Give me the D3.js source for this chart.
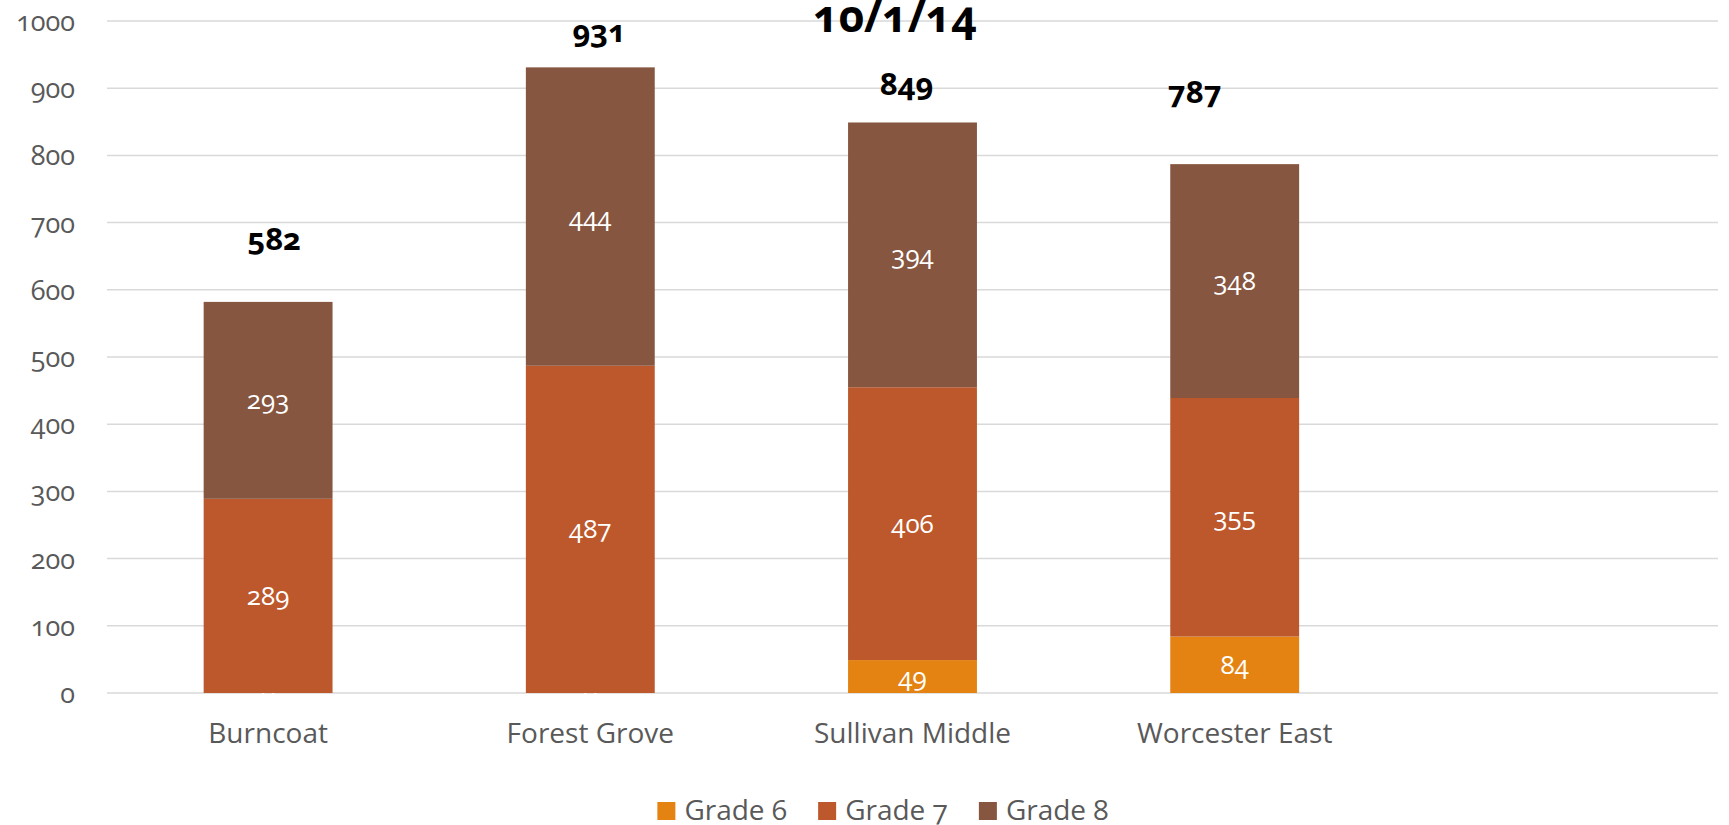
<!DOCTYPE html>
<html>
<head>
<meta charset="utf-8">
<script src="https://cdn.jsdelivr.net/npm/d3@7"></script>
<style>
  body { margin: 0; background: #fff; }
  svg text { font-family: "Open Sans", "Noto Sans", sans-serif; font-variant-numeric: oldstyle-nums; }
</style>
</head>
<body>
<div id="vis"></div>
<script>
// ----- DATA ----- //
const schools = ["Burncoat", "Forest Grove", "Sullivan Middle", "Worcester East", ""];
const grades = ["Grade 6", "Grade 7", "Grade 8"];
const grade6 = [0, 0, 49, 84];
const grade7 = [289, 487, 406, 355];
const grade8 = [293, 444, 394, 348];
const totals = [582, 931, 849, 787];
const yTicks = [0, 100, 200, 300, 400, 500, 600, 700, 800, 900, 1000];
const chartTitle = "10/1/14";

// total labels were hand placed in the original, nudge them (px)
const totalNudge = [[6, -52], [9, -25], [-6, -27], [-40, -61]];

const colors = ["#E48312", "#BD582C", "#865640"];

// ----- SETUP ----- //
let margin = { top: 21, right: 11, bottom: 132, left: 107 },
  fullWidth = 1729,
  fullHeight = 825,
  width = fullWidth - margin.left - margin.right,
  height = fullHeight - margin.top - margin.bottom;

const svg = d3.select("#vis")
  .append("svg")
  .attr("width", fullWidth)
  .attr("height", fullHeight);

const g = svg.append("g")
  .attr("transform", `translate(${margin.left},${margin.top})`);

let x = d3.scaleBand().domain(schools).range([0, width]).padding(0);
let barW = x.bandwidth() * 0.4;

let y = d3.scaleLinear().domain([0, 1000]).range([height, 0]);

// gridlines
g.append("g")
  .selectAll("line")
  .data(yTicks)
  .join("line")
  .attr("x1", 0)
  .attr("x2", width)
  .attr("y1", (d) => y(d))
  .attr("y2", (d) => y(d))
  .attr("stroke", "#d9d9d9")
  .attr("stroke-width", 1.5);

// y axis labels
let yAxis = d3.axisLeft(y).tickValues(yTicks).tickFormat(d3.format("d")).tickSize(0).tickPadding(0);
let yAxisGroup = g.append("g")
  .attr("transform", `translate(${75 - margin.left},0)`)
  .call(yAxis);
yAxisGroup.select(".domain").remove();
yAxisGroup.selectAll("text")
  .attr("font-size", 27)
  .attr("fill", "#595959")
  .attr("dy", "0.35em");

// x axis labels
let xAxis = d3.axisBottom(x).tickSize(0).tickPadding(0);
let xAxisGroup = g.append("g")
  .attr("transform", `translate(0,${height})`)
  .call(xAxis);
xAxisGroup.select(".domain").remove();
xAxisGroup.selectAll("text")
  .attr("font-size", 28)
  .attr("fill", "#595959")
  .attr("dy", 0)
  .attr("y", 50);

// ----- STACKED BARS ----- //
let rows = schools.slice(0, 4).map((s, i) => ({
  school: s,
  "Grade 6": grade6[i],
  "Grade 7": grade7[i],
  "Grade 8": grade8[i],
}));
let stacked = d3.stack().keys(grades)(rows);
let color = d3.scaleOrdinal().domain(grades).range(colors);

let layers = g.append("g")
  .selectAll("g")
  .data(stacked)
  .join("g")
  .attr("fill", (d) => color(d.key));

layers.selectAll("rect")
  .data((d) => d)
  .join("rect")
  .attr("x", (d) => x(d.data.school) + (x.bandwidth() - barW) / 2)
  .attr("width", barW)
  .attr("y", (d) => y(d[1]))
  .attr("height", (d) => y(d[0]) - y(d[1]));

// segment labels
layers.selectAll("text")
  .data((d) => d)
  .join("text")
  .attr("x", (d) => x(d.data.school) + x.bandwidth() / 2)
  .attr("y", (d) => y((d[0] + d[1]) / 2))
  .attr("dy", "0.35em")
  .attr("text-anchor", "middle")
  .attr("font-size", 26)
  .attr("fill", "#fff")
  .text((d) => d[1] - d[0]);

// total labels
g.append("g")
  .selectAll("text")
  .data(totals)
  .join("text")
  .attr("x", (d, i) => x(schools[i]) + x.bandwidth() / 2 + totalNudge[i][0])
  .attr("y", (d, i) => y(d) + totalNudge[i][1])
  .attr("text-anchor", "middle")
  .attr("font-size", 31)
  .attr("font-weight", "bold")
  .attr("fill", "#000")
  .text((d) => d);

// ----- TITLE ----- //
svg.append("text")
  .attr("x", 895)
  .attr("y", 32)
  .attr("text-anchor", "middle")
  .attr("font-size", 44)
  .attr("font-weight", "bold")
  .attr("fill", "#000")
  .text(chartTitle);

// ----- LEGEND ----- //
let legendSize = 18;
let legend = svg.append("g");
let items = legend.selectAll("g")
  .data(grades)
  .join("g");
items.append("rect")
  .attr("y", 802)
  .attr("width", legendSize)
  .attr("height", legendSize)
  .attr("fill", (d) => color(d));
items.append("text")
  .attr("x", legendSize + 9)
  .attr("y", 820)
  .attr("font-size", 28)
  .attr("fill", "#595959")
  .text((d) => d);

let offset = 0;
items.each(function () {
  d3.select(this).attr("transform", `translate(${offset},0)`);
  offset += this.getBBox().width + 31;
});
let legendW = offset - 31;
legend.attr("transform", `translate(${883 - legendW / 2},0)`);
</script>
</body>
</html>
